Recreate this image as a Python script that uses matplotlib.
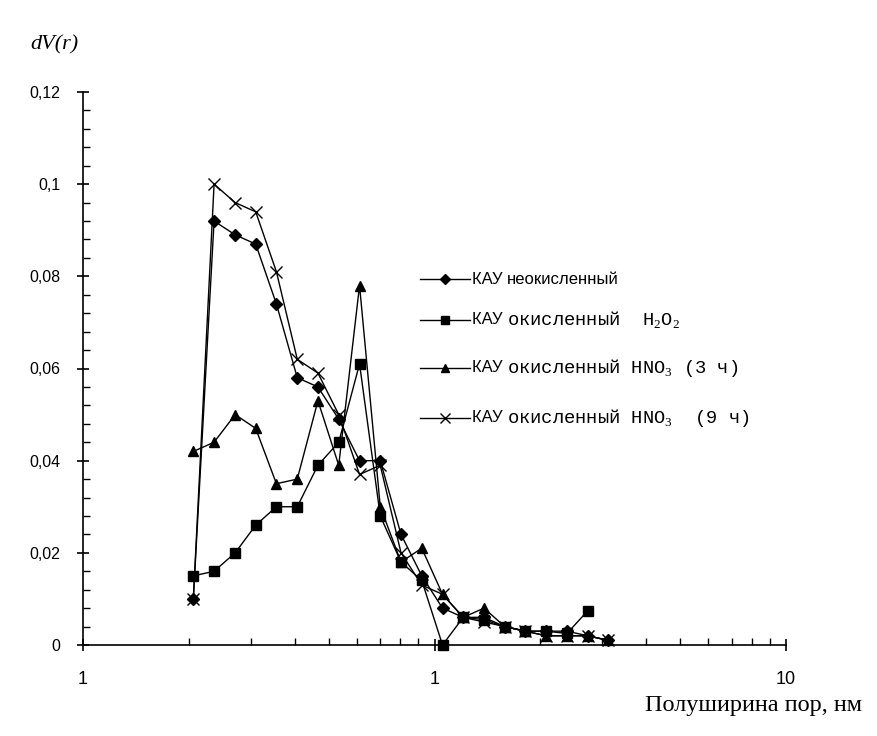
import numpy as np
import matplotlib
matplotlib.use("Agg")
from matplotlib import pyplot as plt
from matplotlib.ticker import FixedLocator, FixedFormatter, NullFormatter
from matplotlib.lines import Line2D

plt.rcParams["mathtext.fontset"] = "custom"
plt.rcParams["mathtext.rm"] = "Liberation Serif"

# pore half-width, nm
r = [0.206, 0.236, 0.271, 0.310, 0.355, 0.407, 0.466, 0.534, 0.612, 0.701, 0.803,
     0.920, 1.054, 1.207, 1.383, 1.584, 1.814, 2.078, 2.381, 2.727, 3.124]

# dV(r) for each sample
kau = [0.010, 0.092, 0.089, 0.087, 0.074, 0.058, 0.056, 0.049, 0.040, 0.040, 0.024,
       0.015, 0.008, 0.006, 0.006, 0.004, 0.003, 0.003, 0.003, 0.002, 0.001]
kau_h2o2 = [0.015, 0.016, 0.020, 0.026, 0.030, 0.030, 0.039, 0.044, 0.061, 0.028, 0.018,
            0.014, 0.000, 0.006, 0.0055, 0.004, 0.003, 0.003, 0.0025, 0.0074]
kau_hno3_3 = [0.042, 0.044, 0.050, 0.047, 0.035, 0.036, 0.053, 0.039, 0.078, 0.030, 0.018,
              0.021, 0.011, 0.006, 0.008, 0.004, 0.003, 0.002, 0.002, 0.002, 0.001]
kau_hno3_9 = [0.010, 0.100, 0.096, 0.094, 0.081, 0.062, 0.059, 0.050, 0.037, 0.039, 0.020,
              0.013, 0.011, 0.006, 0.005, 0.004, 0.003, 0.002, 0.002, 0.002, 0.001]

x_ticks = [0.1, 1, 10]
x_labels = ["1", "1", "10"]
y_ticks = [0, 0.02, 0.04, 0.06, 0.08, 0.1, 0.12]
y_labels = ["0", "0,02", "0,04", "0,06", "0,08", "0,1", "0,12"]

W, H = 877, 736
fig = plt.figure(figsize=(W / 100, H / 100), dpi=100)
ax = fig.add_axes([83 / W, 1 - 645 / H, (786 - 83) / W, (645 - 92) / H])

styles = [
    (kau, "D", 6, "неокисленный"),
    (kau_h2o2, "s", 7, "окисленный  H$_2$O$_2$"),
    (kau_hno3_3, "^", 7, "окисленный HNO$_3$ (3 ч)"),
    (kau_hno3_9, "x", 8, "окисленный HNO$_3$  (9 ч)"),
]

for vals, m, ms, _ in styles:
    ax.plot(r[:len(vals)], vals, color="black", lw=1, marker=m, ms=ms,
            mfc="black", mec="black", mew=1, clip_on=False)

ax.set_xscale("log")
ax.set_xlim(0.1, 10)
ax.set_ylim(0, 0.12)

ax.xaxis.set_major_locator(FixedLocator(x_ticks))
ax.xaxis.set_major_formatter(FixedFormatter(x_labels))
minors = [k * 10.0 ** e for e in (-1, 0) for k in range(2, 10)]
ax.xaxis.set_minor_locator(FixedLocator(minors))
ax.xaxis.set_minor_formatter(NullFormatter())
ax.yaxis.set_major_locator(FixedLocator(y_ticks))
ax.yaxis.set_major_formatter(FixedFormatter(y_labels))
ax.yaxis.set_minor_locator(FixedLocator(np.arange(0, 0.1201, 0.004)))

for s in ("top", "right"):
    ax.spines[s].set_visible(False)
for s in ("left", "bottom"):
    ax.spines[s].set_linewidth(1.2)

ax.tick_params(which="major", direction="inout", length=9, width=1.2)
ax.tick_params(which="minor", direction="in", length=5, width=1)
ax.tick_params(axis="y", which="major", pad=12, labelsize=11.5)
ax.tick_params(axis="x", which="major", pad=14, labelsize=13)
for t in ax.get_xticklabels() + ax.get_yticklabels():
    t.set_fontfamily("Liberation Sans")

fig.text(30 / W, 1 - 45 / H, "dV(r)", family="Liberation Serif", style="italic",
         fontsize=16, va="center")
fig.text(862 / W, 1 - 705 / H, "Полуширина пор, нм", family="Liberation Serif",
         fontsize=17.5, ha="right", va="center")

# hand-made legend: sans "КАУ" followed by the rest of the label
leg_y = [279, 320, 368, 418]
for (vals, m, ms, rest), yy in zip(styles, leg_y):
    y = 1 - yy / H
    fig.add_artist(Line2D([420 / W, 470 / W], [y, y], color="black", lw=1))
    fig.add_artist(Line2D([445 / W], [y], color="black", marker=m, ms=ms - 1,
                          mfc="black", mec="black", lw=0))
    t1 = fig.text(472 / W, y, "КАУ ", family="Liberation Sans", fontsize=12, va="center")
    if rest == "неокисленный":
        fam, fs = "Liberation Sans", 12
    else:
        fam, fs = "Liberation Mono", 13.5
    ax.annotate(rest, xy=(1, 0.5), xycoords=t1, va="center", ha="left",
                family=fam, fontsize=fs, annotation_clip=False)

fig.savefig("out.png", dpi=100)
